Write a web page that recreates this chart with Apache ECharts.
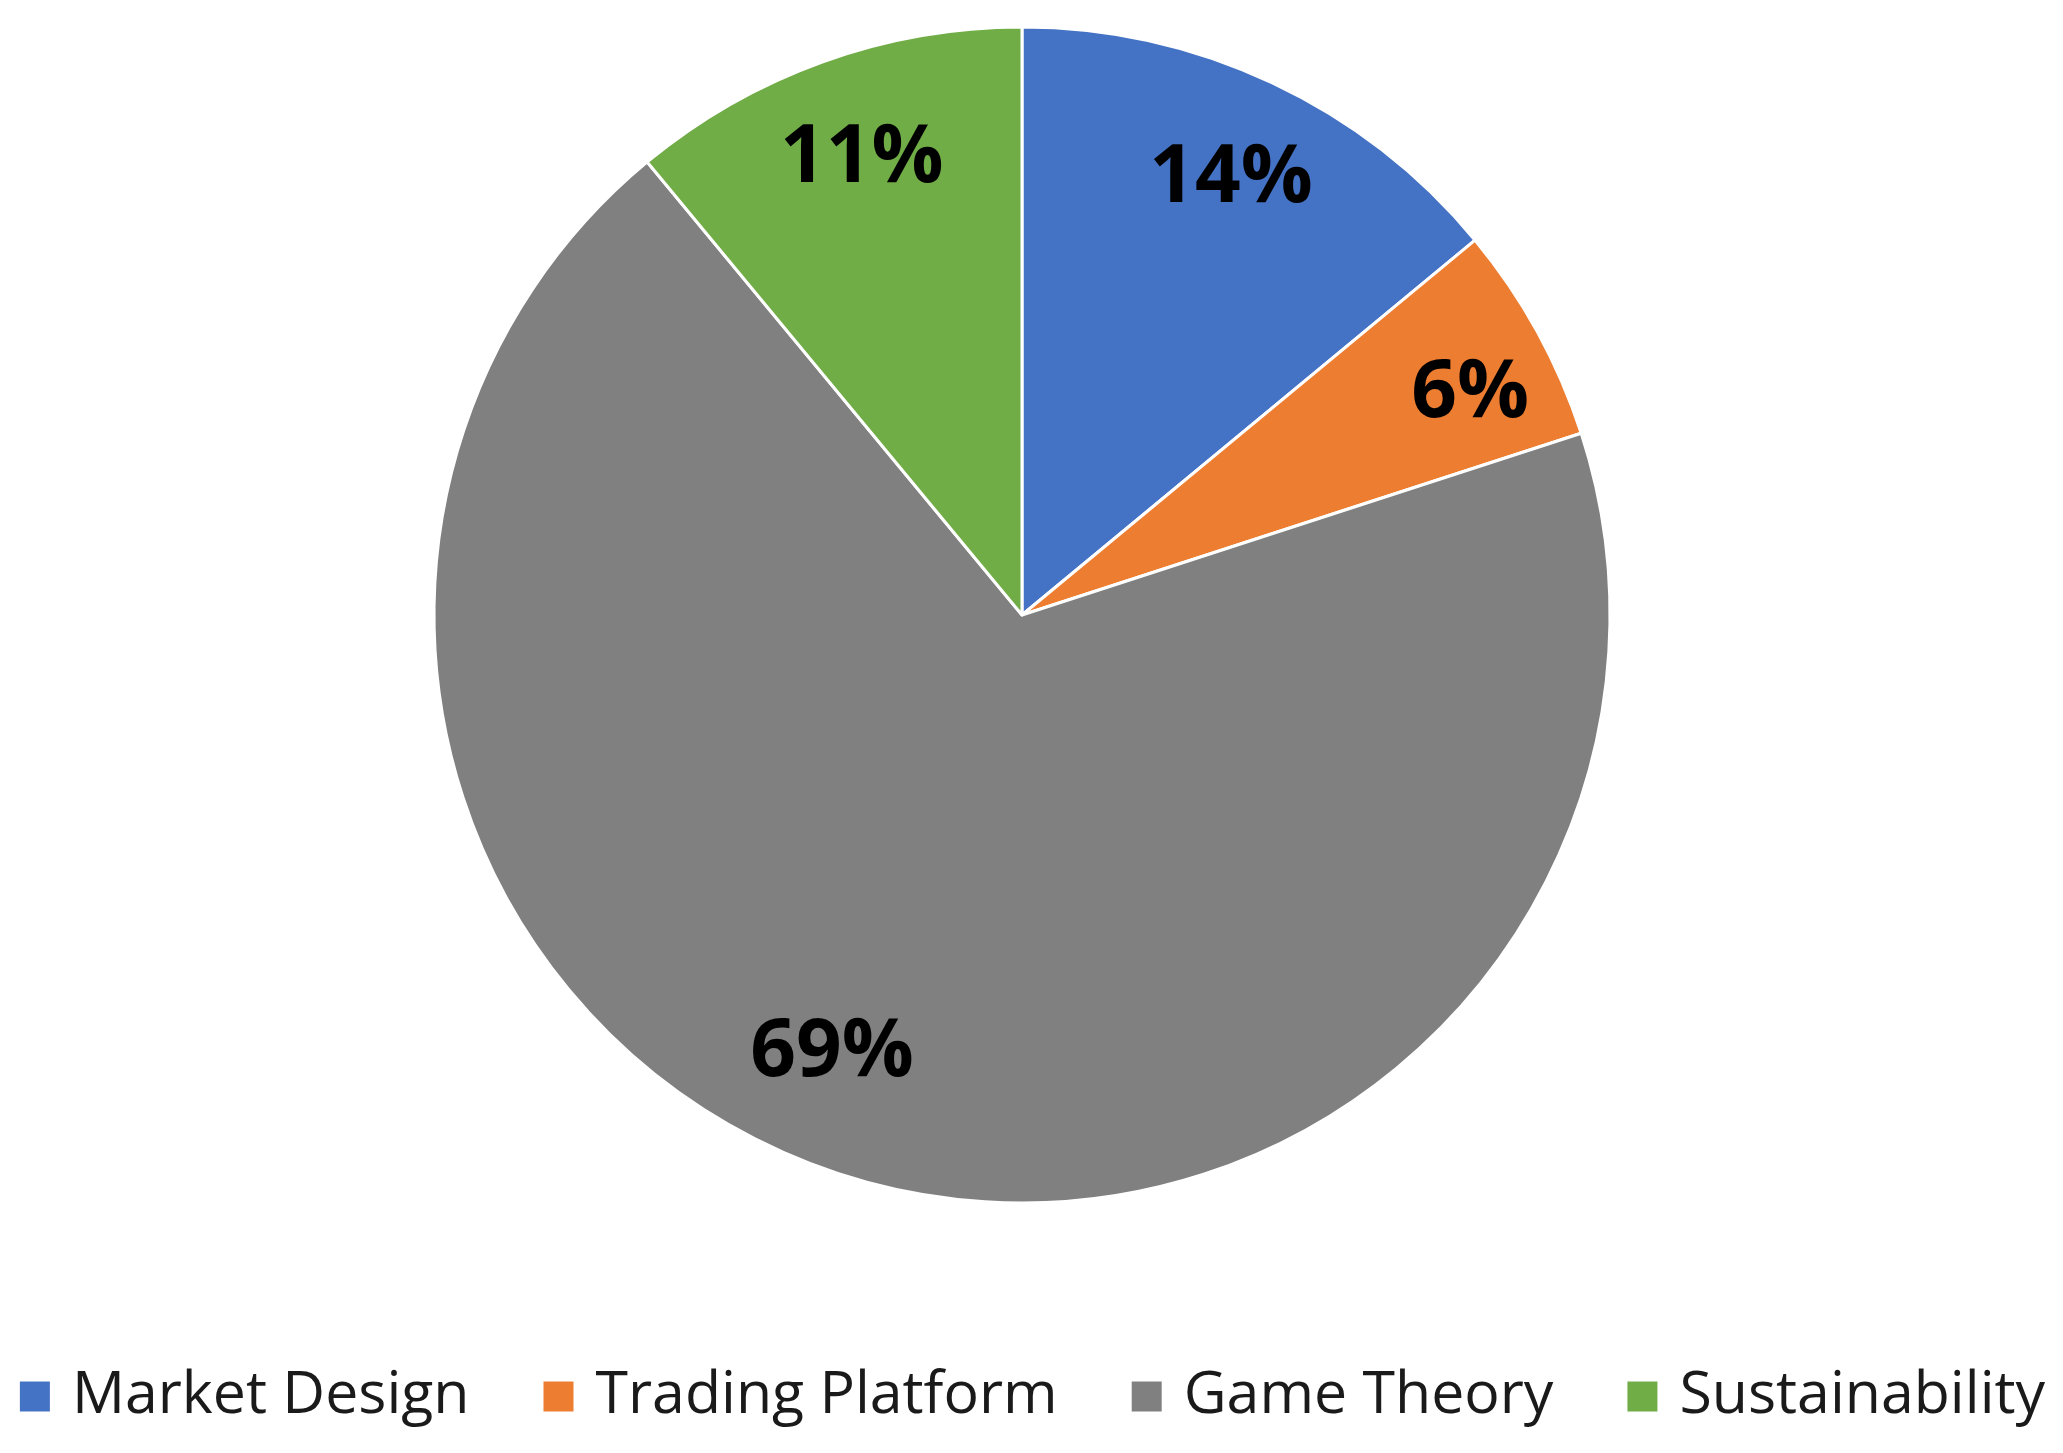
<!DOCTYPE html>
<html>
<head>
<meta charset="utf-8">
<script src="https://cdn.jsdelivr.net/npm/echarts@6/dist/echarts.min.js"></script>
<style>
  html, body { margin: 0; padding: 0; background: #fff; }
  #chart { width: 2063px; height: 1453px; }
</style>
</head>
<body>
<div id="chart"></div>
<script>
// topic shares (percent)
const categories = ['Market Design', 'Trading Platform', 'Game Theory', 'Sustainability'];
const shares = [14, 6, 69, 11];
const colors = ['#4472C4', '#ED7D31', '#808080', '#70AD47'];

const pieData = categories.map(function (name, i) {
  return { name: name, value: shares[i], itemStyle: { color: colors[i] } };
});

// small nudges so labels sit where the original "best fit" put them
const labelNudge = [[0, 8], [18, 16], [-53, -33], [6, 6]];

const chart = echarts.init(document.getElementById('chart'));

const option = {
  animation: false,
  legend: {
    top: 1362,
    left: 'center',
    itemWidth: 32,
    itemHeight: 32,
    itemGap: 72,
    icon: 'rect',
    data: categories,
    textStyle: {
      fontFamily: 'Open Sans',
      fontSize: 59,
      color: '#1a1a1a',
      padding: [0, 0, 0, 16]
    }
  },
  series: [
    {
      // the slices
      type: 'pie',
      center: [1022, 615],
      radius: [0, 588],
      startAngle: 90,
      clockwise: true,
      itemStyle: { borderColor: '#ffffff', borderWidth: 3 },
      label: { show: false },
      labelLine: { show: false },
      data: pieData
    },
    {
      // label ring, only carries the percent labels near the rim
      type: 'pie',
      silent: true,
      center: [1022, 615],
      radius: [388, 588],
      startAngle: 90,
      clockwise: true,
      itemStyle: { color: 'rgba(0,0,0,0)', borderWidth: 0 },
      label: {
        show: true,
        position: 'inside',
        fontFamily: 'Open Sans',
        fontWeight: 'bold',
        fontSize: 80,
        color: '#000',
        formatter: function (p) { return Math.round(p.percent) + '%'; }
      },
      labelLine: { show: false },
      data: categories.map(function (name, i) {
        return { name: name, value: shares[i], label: { offset: labelNudge[i] } };
      })
    }
  ]
};

chart.setOption(option);
</script>
</body>
</html>
